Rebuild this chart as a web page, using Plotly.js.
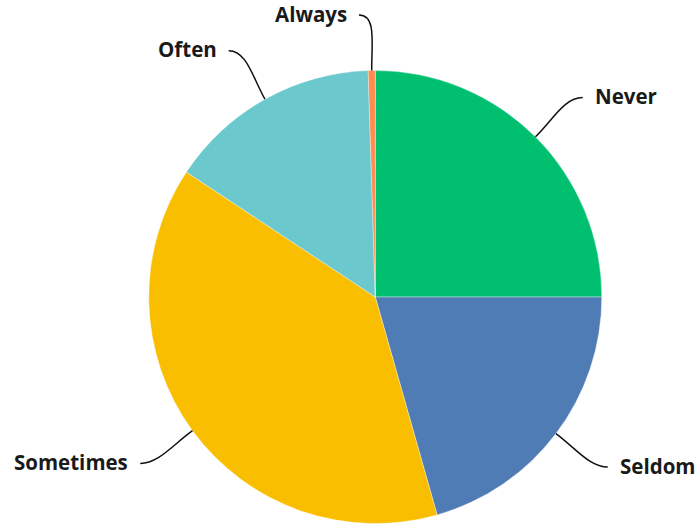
<!DOCTYPE html>
<html>
<head>
<meta charset="utf-8">
<script src="https://cdn.plot.ly/plotly-3.0.1.min.js"></script>
<style>html,body{margin:0;padding:0;background:#fff}#chart{width:700px;height:524px}</style>
</head>
<body>
<div id="chart"></div>
<script>
const categories = ["Never", "Seldom", "Sometimes", "Often", "Always"];
const values = [25.0, 20.6, 38.7, 15.2, 0.5];
const colors = ["#00bf6f", "#507cb6", "#f9be00", "#6bc8cd", "#ff8b4f"];

const W = 700, H = 524;
const cx = 375.3, cy = 297, r = 226.5;

const pie = {
  type: "pie",
  labels: categories,
  values: values,
  sort: false,
  direction: "clockwise",
  rotation: 0,
  textinfo: "none",
  hoverinfo: "label+percent",
  marker: {colors: colors, line: {color: "rgba(255,255,255,0.6)", width: 0.6}},
  domain: {x: [(cx - r) / W, (cx + r) / W], y: [1 - (cy + r) / H, 1 - (cy - r) / H]},
  showlegend: false
};

// leader lines & labels derived from slice mid-angles
const total = values.reduce((a, b) => a + b, 0);
const shapes = [], annotations = [];
let cum = 0;
const px = x => x / W, py = y => 1 - y / H;
values.forEach((v, i) => {
  const mid = (cum + v / 2) / total * 2 * Math.PI;
  cum += v;
  const s = Math.sin(mid), c = Math.cos(mid);
  const side = s >= 0 ? 1 : -1;
  const x0 = cx + s * r, y0 = cy - c * r;
  const x3 = cx + s * r * 1.22 + side * 12, y3 = cy - c * r * 1.245;
  const x1 = x0 + s * 26, y1 = y0 - c * 26;
  const x2 = x3 - side * 18, y2 = y3;
  shapes.push({
    type: "path", xref: "paper", yref: "paper",
    path: `M ${px(x0)} ${py(y0)} C ${px(x1)} ${py(y1)} ${px(x2)} ${py(y2)} ${px(x3)} ${py(y3)}`,
    line: {color: "#111", width: 1.5}
  });
  annotations.push({
    xref: "paper", yref: "paper",
    x: px(x3 + side * 10), y: py(y3 - 1.5),
    xanchor: side > 0 ? "left" : "right", yanchor: "middle",
    text: "<b>" + categories[i] + "</b>",
    showarrow: false,
    font: {family: "Open Sans, sans-serif", size: 20.5, color: "#1a1a1a"}
  });
});

const layout = {
  width: W, height: H,
  margin: {l: 0, r: 0, t: 0, b: 0},
  paper_bgcolor: "#fff",
  shapes: shapes,
  annotations: annotations
};
Plotly.newPlot("chart", [pie], layout, {displayModeBar: false, staticPlot: true});
</script>
</body>
</html>
